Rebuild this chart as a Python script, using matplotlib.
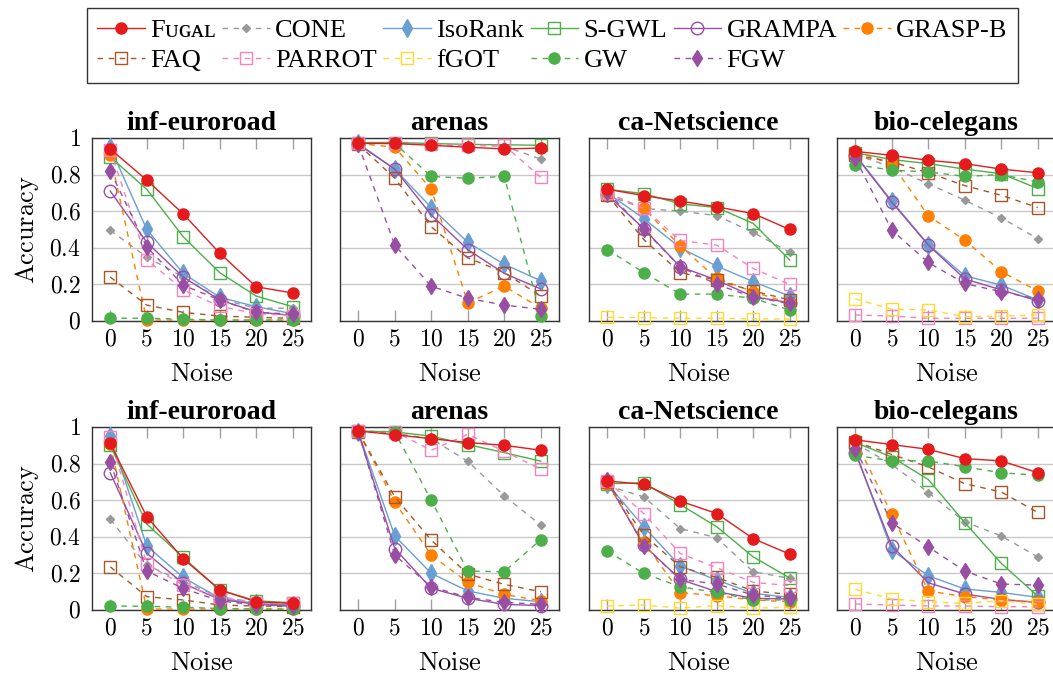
import matplotlib
matplotlib.use("Agg")
import matplotlib.pyplot as plt
from matplotlib.ticker import FuncFormatter

plt.rcParams['mathtext.fontset'] = 'cm'
plt.rcParams['font.family'] = ['Liberation Serif', 'DejaVu Serif']

noise = [0, 5, 10, 15, 20, 25]
datasets = ["inf-euroroad", "arenas", "ca-Netscience", "bio-celegans",
            "inf-euroroad", "arenas", "ca-Netscience", "bio-celegans"]
y_ticks = [0, 0.2, 0.4, 0.6, 0.8, 1.0]

methods = ["Fᴜɢᴀʟ", "CONE", "IsoRank", "S-GWL", "GRAMPA", "GRASP-B",
           "FAQ", "PARROT", "fGOT", "GW", "FGW"]

N = None  # not shown in that panel

# rows: panels (top row 4, bottom row 4)
FUGAL = [
    [0.94, 0.77, 0.585, 0.37, 0.187, 0.153],
    [0.97, 0.97, 0.96, 0.95, 0.94, 0.945],
    [0.72, 0.685, 0.655, 0.624, 0.587, 0.50],
    [0.927, 0.905, 0.878, 0.86, 0.83, 0.81],
    [0.91, 0.51, 0.28, 0.11, 0.045, 0.036],
    [0.978, 0.958, 0.936, 0.915, 0.90, 0.873],
    [0.705, 0.687, 0.595, 0.527, 0.39, 0.305],
    [0.93, 0.904, 0.878, 0.827, 0.815, 0.75]]
CONE = [
    [0.495, 0.35, 0.24, 0.12, 0.07, 0.07],
    [0.975, 0.975, 0.965, 0.96, 0.955, 0.885],
    [0.687, 0.615, 0.60, 0.576, 0.484, 0.375],
    [0.91, 0.84, 0.75, 0.66, 0.564, 0.45],
    [0.495, 0.245, 0.155, 0.073, 0.04, 0.027],
    [0.975, 0.965, 0.936, 0.813, 0.624, 0.464],
    [0.68, 0.618, 0.445, 0.395, 0.209, 0.173],
    [0.91, 0.796, 0.642, 0.482, 0.405, 0.29]]
ISORANK = [
    [0.95, 0.50, 0.26, 0.13, 0.078, 0.04],
    [0.97, 0.83, 0.62, 0.43, 0.31, 0.22],
    [0.70, 0.56, 0.40, 0.30, 0.215, 0.136],
    [0.91, 0.655, 0.418, 0.247, 0.196, 0.115],
    [0.95, 0.35, 0.178, 0.064, 0.036, 0.027],
    [0.975, 0.405, 0.20, 0.104, 0.064, 0.045],
    [0.69, 0.455, 0.24, 0.164, 0.091, 0.069],
    [0.87, 0.327, 0.187, 0.115, 0.096, 0.069]]
SGWL = [
    [0.896, 0.72, 0.46, 0.264, 0.136, 0.078],
    [0.975, 0.975, 0.97, 0.965, 0.963, 0.96],
    [0.72, 0.696, 0.64, 0.62, 0.533, 0.333],
    [0.92, 0.882, 0.86, 0.83, 0.805, 0.724],
    [0.90, 0.47, 0.287, 0.11, 0.05, 0.04],
    [0.978, 0.973, 0.95, 0.904, 0.86, 0.813],
    [0.69, 0.695, 0.576, 0.455, 0.29, 0.175],
    [0.915, 0.836, 0.713, 0.478, 0.255, 0.076]]
GRAMPA = [
    [0.71, 0.43, 0.24, 0.115, 0.05, 0.03],
    [0.965, 0.83, 0.58, 0.39, 0.26, 0.175],
    [0.69, 0.505, 0.296, 0.224, 0.133, 0.10],
    [0.905, 0.65, 0.415, 0.23, 0.17, 0.11],
    [0.75, 0.31, 0.145, 0.058, 0.031, 0.022],
    [0.97, 0.336, 0.118, 0.064, 0.031, 0.024],
    [0.70, 0.355, 0.167, 0.10, 0.064, 0.06],
    [0.86, 0.35, 0.149, 0.087, 0.058, 0.042]]
GRASPB = [
    [0.905, 0.005, 0.005, 0.005, 0.005, 0.005],
    [0.97, 0.95, 0.72, 0.10, 0.19, 0.07],
    [0.70, 0.615, 0.41, 0.233, 0.16, 0.096],
    [0.925, 0.86, 0.575, 0.442, 0.27, 0.164],
    [0.905, 0.005, 0.005, 0.005, 0.005, 0.005],
    [0.975, 0.59, 0.30, 0.151, 0.085, 0.051],
    [0.69, 0.373, 0.095, 0.078, 0.055, 0.045],
    [0.93, 0.524, 0.104, 0.073, 0.055, 0.042]]
FAQ = [
    [0.24, 0.087, 0.047, 0.027, 0.02, 0.015],
    [0.965, 0.78, 0.515, 0.345, 0.265, 0.136],
    [0.69, 0.445, 0.264, 0.224, 0.164, 0.115],
    [0.905, 0.87, 0.81, 0.74, 0.687, 0.62],
    [0.236, 0.073, 0.055, 0.027, 0.022, 0.018],
    [0.975, 0.618, 0.382, 0.196, 0.14, 0.10],
    [0.70, 0.41, 0.236, 0.178, 0.104, 0.085],
    [0.92, 0.85, 0.782, 0.69, 0.645, 0.533]]
PARROT = [
    [0.935, 0.335, 0.17, 0.08, 0.04, 0.03],
    [0.975, 0.97, 0.965, 0.96, 0.96, 0.785],
    [0.70, 0.615, 0.44, 0.415, 0.287, 0.20],
    [0.033, 0.027, 0.015, 0.015, 0.015, 0.015],
    [0.945, 0.25, 0.136, 0.07, 0.04, 0.036],
    [0.978, 0.975, 0.873, 0.96, 0.867, 0.77],
    [0.705, 0.527, 0.309, 0.231, 0.151, 0.133],
    [0.033, 0.027, 0.022, 0.022, 0.018, 0.018]]
FGOT = [
    [N, N, N, N, N, N],
    [N, N, N, N, N, N],
    [0.02, 0.018, 0.015, 0.015, 0.012, 0.01],
    [0.12, 0.065, 0.06, 0.024, 0.027, 0.033],
    [N, N, N, N, N, N],
    [N, N, N, N, N, N],
    [0.022, 0.027, 0.01, 0.024, 0.01, 0.015],
    [0.113, 0.06, 0.045, 0.036, 0.051, 0.031]]
GW = [
    [0.015, 0.015, 0.01, 0.005, 0.005, 0.005],
    [0.975, 0.97, 0.79, 0.78, 0.79, 0.027],
    [0.39, 0.265, 0.147, 0.147, 0.124, 0.06],
    [0.855, 0.824, 0.815, 0.79, 0.80, 0.76],
    [0.022, 0.02, 0.015, 0.008, 0.005, 0.005],
    [0.975, 0.973, 0.60, 0.213, 0.209, 0.385],
    [0.322, 0.20, 0.127, 0.096, 0.055, 0.055],
    [0.845, 0.815, 0.815, 0.782, 0.75, 0.736]]
FGW = [
    [0.82, 0.405, 0.195, 0.115, 0.047, 0.038],
    [0.965, 0.415, 0.19, 0.124, 0.087, 0.064],
    [0.705, 0.50, 0.296, 0.20, 0.13, 0.096],
    [0.89, 0.497, 0.32, 0.205, 0.16, 0.12],
    [0.81, 0.213, 0.118, 0.05, 0.027, 0.022],
    [0.975, 0.30, 0.127, 0.069, 0.042, 0.031],
    [0.71, 0.35, 0.167, 0.142, 0.082, 0.064],
    [0.882, 0.476, 0.345, 0.213, 0.142, 0.136]]

series = [FUGAL, CONE, ISORANK, SGWL, GRAMPA, GRASPB, FAQ, PARROT, FGOT, GW, FGW]

DASH = (0, (4, 4))
styles = [
    dict(color='#e41a1c', ls='-', marker='o', ms=8, mfc='#e41a1c', zorder=5),
    dict(color='#999999', ls=DASH, marker='D', ms=4, mfc='#999999', zorder=3),
    dict(color='#6a9fd4', ls='-', marker='d', ms=9, mfc='#6a9fd4', zorder=3),
    dict(color='#4daf4a', ls='-', marker='s', ms=9, mfc='none', zorder=3),
    dict(color='#984ea3', ls='-', marker='o', ms=9, mfc='none', zorder=3),
    dict(color='#ff7f00', ls=DASH, marker='o', ms=8, mfc='#ff7f00', zorder=3),
    dict(color='#a65628', ls=DASH, marker='s', ms=9, mfc='none', zorder=3),
    dict(color='#f781bf', ls=DASH, marker='s', ms=9, mfc='none', zorder=3),
    dict(color='#ffd92f', ls=DASH, marker='s', ms=9, mfc='none', zorder=3),
    dict(color='#4daf4a', ls=DASH, marker='o', ms=8, mfc='#4daf4a', zorder=3),
    dict(color='#984ea3', ls=DASH, marker='d', ms=8, mfc='#984ea3', zorder=3),
]

fig = plt.figure(figsize=(10.53, 6.75), dpi=100)
W, H = 1053.0, 675.0
lefts = [92, 340, 589, 837]
aw = 219
tops = [138, 427]
ah = 183

fmt = FuncFormatter(lambda v, p: r'$%s$' % ('0' if v == 0 else ('1' if v == 1 else ('%g' % v))))
xfmt = FuncFormatter(lambda v, p: r'$%d$' % v)

handles = []
for p in range(8):
    r, c = divmod(p, 4)
    ax = fig.add_axes([lefts[c] / W, 1 - (tops[r] + ah) / H, aw / W, ah / H])
    ax.set_xlim(-2.5, 27.5)
    ax.set_ylim(0, 1)
    ax.set_yticks(y_ticks)
    ax.set_xticks(noise)
    ax.yaxis.grid(True, color='#c8c8c8', lw=1.0)
    ax.set_axisbelow(True)
    ax.tick_params(axis='x', direction='in', top=True, length=8, width=1.0,
                   color='#a0a0a0', labelsize=17, pad=6)
    ax.tick_params(axis='y', direction='in', right=True, length=0, labelsize=17, pad=8)
    ax.xaxis.set_major_formatter(xfmt)
    if c == 0:
        ax.yaxis.set_major_formatter(fmt)
        ax.set_ylabel(r'$\mathrm{Accuracy}$', fontsize=19, labelpad=6)
    else:
        ax.set_yticklabels([])
    ax.set_xlabel(r'$\mathrm{Noise}$', fontsize=19, labelpad=10)
    ax.set_title(datasets[p], fontsize=20, fontweight='bold', pad=6)
    for sp in ax.spines.values():
        sp.set_color('#333333')
        sp.set_linewidth(1.0)
    for name, data, st in zip(methods, series, styles):
        st2 = dict(st)
        z = st2.pop('zorder')
        yv = [float('nan') if v is None else v for v in data[p]]
        ln, = ax.plot(noise, yv, lw=1.0, mew=1.0, clip_on=False,
                      label=name, zorder=z, **st2)
        if p == 0:
            handles.append(ln)

# matplotlib fills legend column by column; reorder so rows read left to right
order = [0, 6, 1, 7, 2, 8, 3, 9, 4, 10, 5]
leg = fig.legend(handles=[handles[i] for i in order],
                 labels=[methods[i] for i in order], loc='upper center',
                 bbox_to_anchor=(0.5247, 0.988), ncol=6, fontsize=19,
                 frameon=True, fancybox=False, edgecolor='black',
                 numpoints=1, handlelength=1.8, handletextpad=0.2,
                 columnspacing=0.25, borderpad=0.4, labelspacing=0.25,
                 borderaxespad=0)
leg.get_frame().set_linewidth(1.0)

fig.savefig('out.png', dpi=100)
